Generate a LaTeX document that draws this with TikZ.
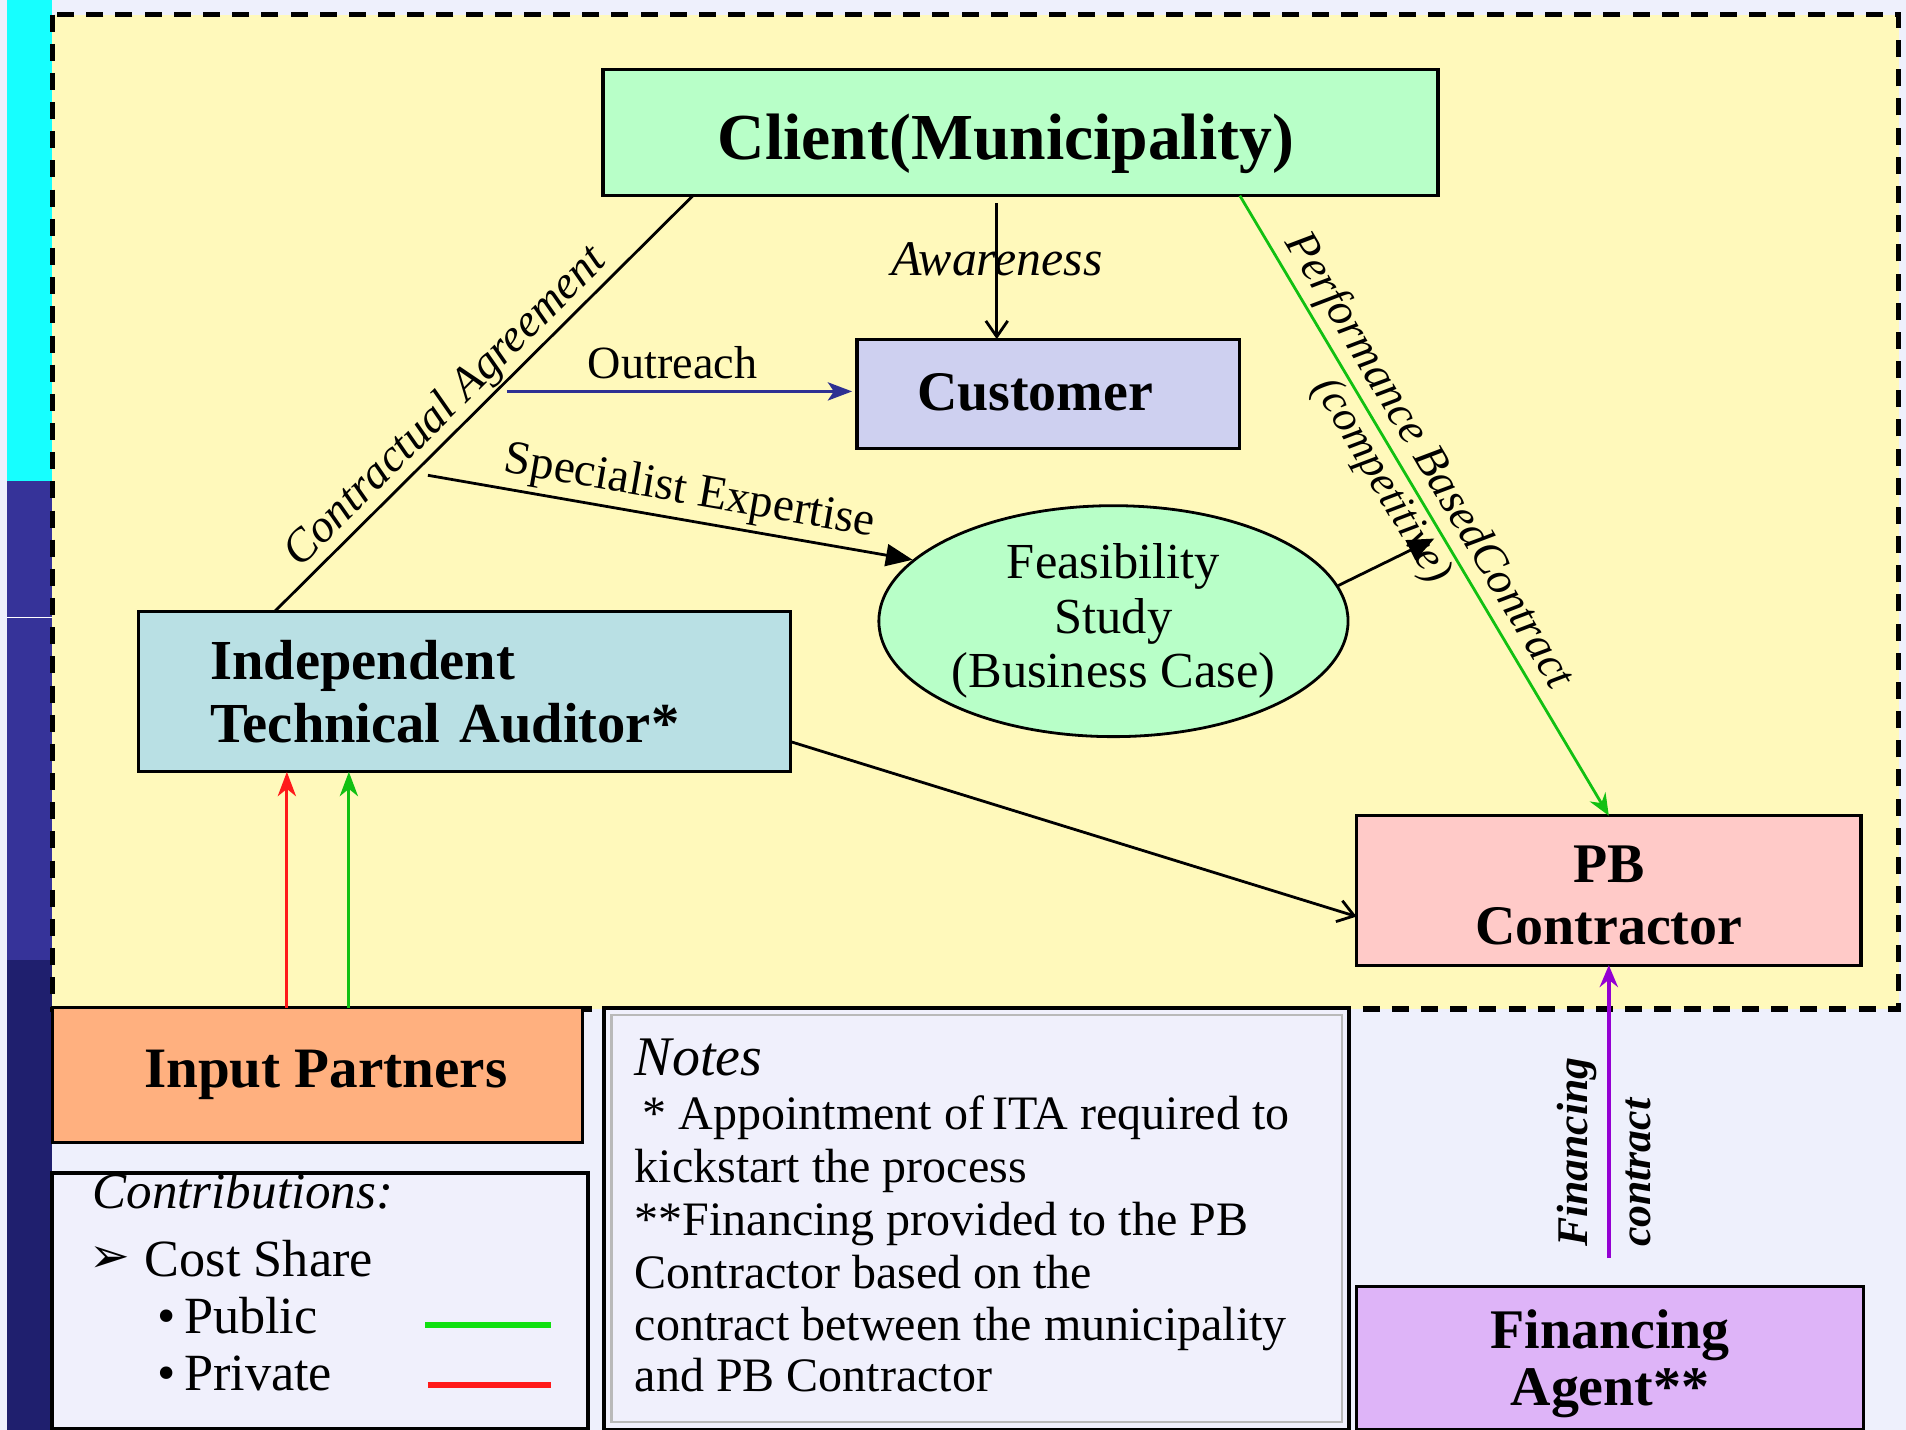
\documentclass[tikz,border=0pt]{standalone}
\usepackage{fontspec}
\setmainfont{Liberation Serif}
\newfontfamily\dejavu{DejaVu Sans}
\usetikzlibrary{arrows.meta,calc,shapes.geometric}
\newcommand\fsz[2]{\fontsize{#1}{#2}\selectfont}
\definecolor{bglav}{HTML}{EEF0FC}
\definecolor{yel}{HTML}{FFF9BB}
\definecolor{mint}{HTML}{B8FFC8}
\definecolor{custc}{HTML}{CED0F0}
\definecolor{itac}{HTML}{B9E0E4}
\definecolor{pbc}{HTML}{FFCAC8}
\definecolor{inpc}{HTML}{FFB07F}
\definecolor{finc}{HTML}{DEB4F8}
\definecolor{notec}{HTML}{F0F0FC}
\definecolor{cyanstrip}{HTML}{16FFFF}
\definecolor{navyA}{HTML}{363399}
\definecolor{navyB}{HTML}{1F1F6E}
\definecolor{outc}{HTML}{2E3192}
\definecolor{grn}{HTML}{12C012}
\definecolor{legg}{HTML}{10E010}
\definecolor{redc}{HTML}{FF1A1A}
\definecolor{purp}{HTML}{9400D3}
\begin{document}
\begin{tikzpicture}[x=1pt,y=-1pt,
  box/.style={draw=black, line width=2.6pt, inner sep=0pt, outer sep=0pt},
  conn/.style={line width=2.3pt},
  lbl/.style={inner sep=1pt},
  barb/.style={-{Straight Barb[length=13pt,width=18pt]}},
  stl/.style={-{Stealth[length=20pt,width=15pt,inset=6pt]}},
  tri/.style={-{Triangle[length=22pt,width=18pt]}}
]
\useasboundingbox (0,0) rectangle (1568,1176);
\fill[bglav] (0,0) rectangle (1568,1176);
% left strip
\fill[cyanstrip] (6,0) rectangle (43,396);
\fill[navyA] (6,396) rectangle (43,790);
\fill[navyB] (6,790) rectangle (43,1176);
\draw[white, line width=1pt] (6,508) -- (43,508);
% yellow region
\fill[yel] (43,12) rectangle (1562,830);
\draw[line width=4.5pt, dash pattern=on 14pt off 10pt] (43,12) rectangle (1562,830);

% main nodes
\node[box, fill=mint, minimum width=687pt, minimum height=104pt,
  label={[font=\fsz{54}{60}\bfseries, xshift=-12pt, yshift=-9pt]center:Client(Municipality)}] (client) at (839.5,109) {};
\node[box, fill=custc, minimum width=315pt, minimum height=90pt,
  label={[font=\fsz{46}{52}\bfseries, xshift=-11pt, yshift=1pt]center:Customer}] (customer) at (862.5,324) {};
\node[draw=black, line width=2.3pt, ellipse, fill=mint, minimum width=386pt, minimum height=190pt, inner sep=0pt, align=center, font=\fsz{41.5}{45}] (feas) at (916,511) {Feasibility\\Study\\(Business Case)};
\node[box, fill=itac, minimum width=536pt, minimum height=132pt, text width=418pt, inner xsep=59pt, align=left, font=\fsz{46.5}{52}\bfseries] (ita) at (382,569) {Independent\\Technical Auditor*};
\node[box, fill=pbc, minimum width=415pt, minimum height=123pt,
  label={[font=\fsz{46}{51}\bfseries, align=center, yshift=-4pt]center:PB\\Contractor}] (pb) at (1323.5,732.5) {};
\node[box, fill=inpc, minimum width=436pt, minimum height=111pt,
  label={[font=\fsz{47}{52}\bfseries, xshift=7pt]center:Input Partners}] (inp) at (261,884.5) {};
\node[box, fill=finc, minimum width=417pt, minimum height=118pt,
  label={[font=\fsz{46}{47}\bfseries, align=center, yshift=-5pt]center:Financing\\Agent**}] (fin) at (1324.5,1117) {};

% contributions box
\node[box, fill=notec, line width=3.5pt, minimum width=441pt, minimum height=211pt] (contrib) at (263.5,1070.5) {};
\node[lbl, anchor=base west, font=\fsz{42}{46}\itshape] (ctitle) at (75,994) {Contributions:};
\node[lbl, font=\fsz{40}{44}\dejavu] (cbul) at (90,1036) {➢};
\node[lbl, anchor=base west, font=\fsz{43}{46}] (cshare) at (118,1050) {Cost Share};
\node[lbl, anchor=base west, font=\fsz{43}{46}] (cpub) at (128,1097) {\textbullet\,Public};
\node[lbl, anchor=base west, font=\fsz{43}{46}] (cpriv) at (128,1144) {\textbullet\,Private};
\coordinate (gA) at (350,1090); \coordinate (gB) at (453,1090);
\coordinate (rA) at (352,1139); \coordinate (rB) at (453,1139);
\draw[legg, line width=5pt] (gA) -- (gB);
\draw[redc, line width=5pt] (rA) -- (rB);

% notes box
\node[box, fill=notec, line width=3pt, minimum width=613pt, minimum height=347pt] (notes) at (803.5,1002.5) {};
\draw[gray!55, line width=2pt] ($(notes.north west)+(6,6)$) rectangle ($(notes.south east)+(-6,-6)$);
\node[lbl, anchor=base west, font=\fsz{46}{50}\itshape] (ntitle) at (521,885) {Notes};
\node[lbl, anchor=base west, font=\fsz{39.5}{43}] (n1) at (521,929) {\,* Appointment of\,ITA required to};
\node[lbl, anchor=base west, font=\fsz{39.5}{43}] (n2) at (521,973) {kickstart the process};
\node[lbl, anchor=base west, font=\fsz{39.5}{43}] (n3) at (521,1016) {**Financing provided to the PB};
\node[lbl, anchor=base west, font=\fsz{39.5}{43}] (n4) at (521,1060) {Contractor based on the};
\node[lbl, anchor=base west, font=\fsz{39.5}{43}] (n5) at (521,1103) {contract between the municipality};
\node[lbl, anchor=base west, font=\fsz{39.5}{43}] (n6) at (521,1145) {and PB Contractor};

% connectors
\draw[conn] ($(ita.north west)+(112,0)$) -- node[lbl, sloped, above, pos=0.45, font=\fsz{38}{40}\itshape] {Contractual Agreement} ($(client.south west)+(74,0)$);
\draw[conn, barb] ($(client.south)+(-19.5,6)$) -- node[lbl, pos=0.41, font=\fsz{41}{44}\itshape] {Awareness} ($(customer.north)+(-42.5,0)$);
\coordinate (outS) at (417,322);
\draw[conn, outc, -{Stealth[length=20pt,width=15pt,inset=5pt]}] (outS) -- node[lbl, above=8pt, pos=0.48, black, font=\fsz{38}{40}] {Outreach} ($(customer.west)+(-4,-2)$);
\coordinate (specS) at (352,391);
\draw[conn, tri] (specS) -- node[lbl, sloped, above=3pt, pos=0.53, font=\fsz{39}{40}] {Specialist Expertise} (feas.163);
\coordinate (feE) at (1180,443);
\draw[conn, tri] (feas.9) -- (feE);
\draw[conn, grn, -{Stealth[length=18pt,width=15pt,inset=6pt]}] ($(client.south east)+(-163,0)$) -- node[lbl, sloped, above=2pt, pos=0.45, black, font=\fsz{37.5}{40}\itshape] {Performance BasedContract} node[lbl, sloped, below=2pt, pos=0.44, black, font=\fsz{36}{40}\itshape] {(competitive)} (pb.north);
\draw[conn, barb] ($(ita.south east)+(0,-25)$) -- ($(pb.south west)+(0,-40)$);
\draw[conn, redc, stl] ($(inp.north west)+(193,0)$) -- ($(ita.south west)+(122,0)$);
\draw[conn, grn, stl] ($(inp.north west)+(244,0)$) -- ($(ita.south west)+(173,0)$);
\coordinate (finS) at (1323.5,1035);
\draw[line width=3pt, purp, -{Stealth[length=18pt,width=15pt,inset=6pt]}] (finS) -- (pb.south);
\node[lbl, rotate=90, anchor=west, font=\fsz{36}{38}\bfseries\itshape] (fl1) at (1297,1027) {Financing};
\node[lbl, rotate=90, anchor=west, font=\fsz{36}{38}\bfseries\itshape] (fl2) at (1348,1027) {contract};
\end{tikzpicture}
\end{document}
